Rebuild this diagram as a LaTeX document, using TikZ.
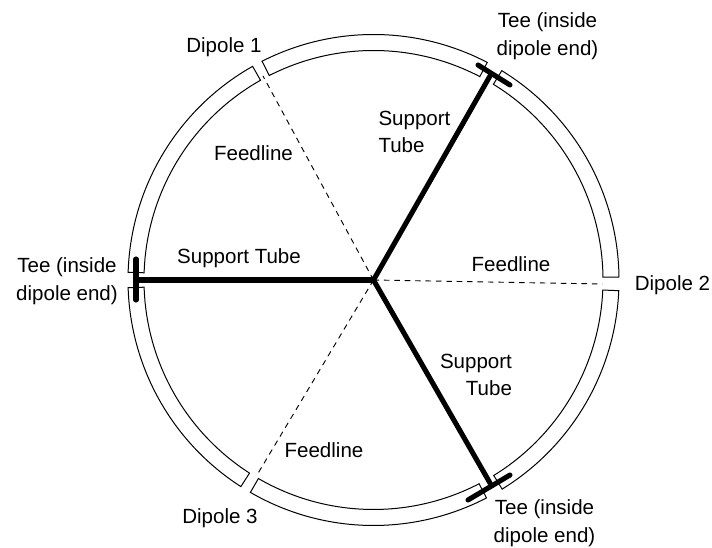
\documentclass[tikz,border=0pt]{standalone}
\usepackage{fontspec}
\setmainfont{Liberation Sans}
\usetikzlibrary{positioning}
\tikzset{
    label/.style={align=center,inner sep=0pt,font=\fontsize{15.4}{20.8}\selectfont},
    tube/.style={line width=3.8pt,line cap=round},
    feedline/.style={line width=0.7pt,dash pattern=on 4.2pt off 3.6pt},
    dipole/.style={line width=0.75pt,line join=miter}
}
\begin{document}
\begin{tikzpicture}[x=0.75pt,y=0.75pt]
        \useasboundingbox (-373.5,-268) rectangle (338.5,280);
        \coordinate (Hub) at (0,0);
        % ring, one piece between each pair of breaks
        \foreach \from/\to in {0.7/58.5,62.4/117,119.5/178.2,181.8/237.3,239.9/297.4,301.6/357.5}
            \draw[dipole] (\from:245.5) arc[start angle=\from,end angle=\to,radius=245.5]
                -- (\to:229.5) arc[start angle=\to,end angle=\from,radius=229.5] -- cycle;

        \coordinate (TeeA) at (116.5,204);
        \coordinate (TeeB) at (116.5,-203);
        \coordinate (TeeC) at (-237.5,0);
        \coordinate (TeeAl) at (104.5,215);
        \coordinate (TeeAr) at (136.5,195);
        \coordinate (TeeBl) at (94.5,-220);
        \coordinate (TeeBr) at (136.5,-195);
        \coordinate (TeeCt) at (-237.5,21);
        \coordinate (TeeCb) at (-237.5,-20);
        \coordinate (FeedA) at (-110.5,204);
        \coordinate (FeedB) at (229,-4);
        \coordinate (FeedC) at (-116.5,-195);

        \node[label] (DipoleA) at (-149.5,232.5) {Dipole 1};
        \node[label] (DipoleB) at (299,-5.5) {Dipole 2};
        \node[label] (DipoleC) at (-153.5,-238.5) {Dipole 3};
        \node[label] (TeeLabelA) at (174,244) {Tee (inside\\dipole end)};
        \node[label] (TeeLabelB) at (171,-243.5) {Tee (inside\\dipole end)};
        \node[label] (TeeLabelC) at (-306.5,-1) {Tee (inside\\dipole end)};
        \node[label,align=left] (TubeLabelA) at (41,148) {Support\\Tube};
        \node[label,align=right] (TubeLabelB) at (102.5,-95) {Support\\Tube};
        \node[label] (TubeLabelC) at (-134.5,22) {Support Tube};
        \node[label] (FeedLabelA) at (-120,127) {Feedline};
        \node[label] (FeedLabelB) at (137.5,16) {Feedline};
        \node[label] (FeedLabelC) at (-49.5,-170) {Feedline};

        \path[feedline]
        (Hub) edge (FeedA)
              edge (FeedB)
              edge (FeedC)
        ;
        \path[tube]
        (Hub) edge (TeeA)
              edge (TeeB)
              edge (TeeC)
        (TeeAl) edge (TeeAr)
        (TeeBl) edge (TeeBr)
        (TeeCt) edge (TeeCb)
        ;
    \end{tikzpicture}
\end{document}
